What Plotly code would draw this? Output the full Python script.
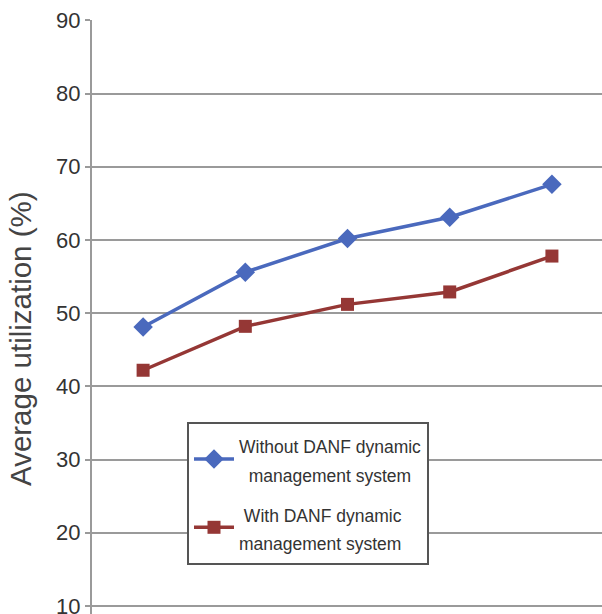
import plotly.graph_objects as go

categories = [1, 2, 3, 4, 5]
without_danf = [48.1, 55.6, 60.2, 63.1, 67.6]
with_danf = [42.2, 48.2, 51.2, 52.9, 57.8]
y_ticks = [10, 20, 30, 40, 50, 60, 70, 80, 90]

NB = "\u00a0"
SP = '<span style="font-size:17.5px">'
name1 = SP + "Without DANF dynamic</span><br>" + SP + NB * 2 + "management system</span>"
name2 = SP + NB + "With DANF dynamic</span><br>" + SP + "management system</span>"

fig = go.Figure()
fig.add_trace(go.Scatter(
    x=categories, y=without_danf, mode="lines+markers", name=name1,
    legendgroup="a",
    line=dict(color="#4A69BD", width=3.5),
    marker=dict(symbol="diamond", size=15, color="#4A69BD"),
))
fig.add_trace(go.Scatter(
    x=categories, y=with_danf, mode="lines+markers", name=name2,
    legendgroup="b",
    line=dict(color="#953735", width=3.5),
    marker=dict(symbol="square", size=13, color="#953735"),
))

fig.add_annotation(
    text="Average utilization (%)", textangle=-90,
    xref="paper", yref="paper", x=(21 - 92) / 510, y=(614 - 339) / 594,
    xanchor="center", yanchor="middle", showarrow=False,
    font=dict(size=29.5, family="Liberation Sans, Arial, sans-serif", color="#444444"),
)

fig.update_layout(
    width=602, height=614,
    margin=dict(l=92, r=0, t=20, b=0, autoexpand=False),
    paper_bgcolor="white", plot_bgcolor="white",
    font=dict(family="Liberation Sans, Arial, sans-serif", color="#333333"),
    showlegend=True,
    legend=dict(
        x=(187 - 92) / 510, y=(614 - 422) / 594, xanchor="left", yanchor="top",
        bordercolor="#555555", borderwidth=2, bgcolor="white",
        font=dict(size=22, family="Liberation Sans, Arial, sans-serif", color="#333333"),
        traceorder="grouped", tracegroupgap=8, itemwidth=40,
    ),
    xaxis=dict(
        range=[0.5, 5.49], showticklabels=False, showgrid=False, zeroline=False,
        showline=False, ticks="", automargin=False,
    ),
    yaxis=dict(
        range=[8.9, 90.05], tickvals=y_ticks, ticklabeloverflow="allow",
        automargin=False,
        tickfont=dict(size=22, family="Liberation Sans, Arial, sans-serif", color="#333333"),
        showgrid=True, gridcolor="#9a9a9a", gridwidth=2,
        showline=True, linecolor="#9a9a9a", linewidth=2,
        ticks="outside", ticklen=5, tickcolor="#9a9a9a", tickwidth=2,
        zeroline=False,
    ),
)

fig.write_html("out.html")
